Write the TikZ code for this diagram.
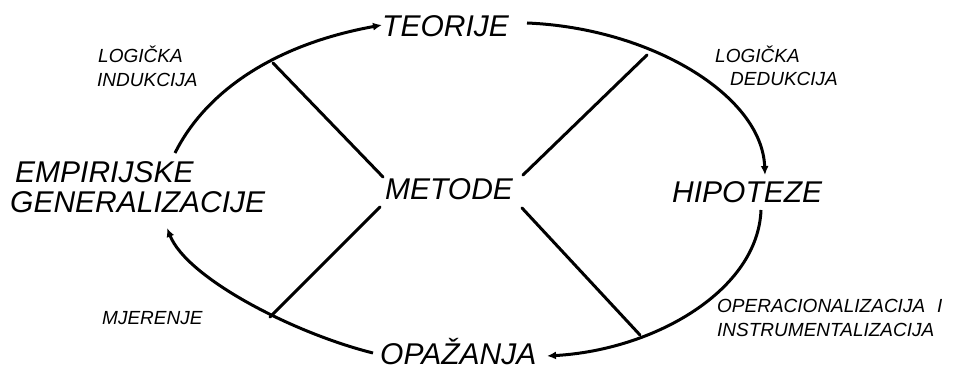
\documentclass[tikz,border=0pt]{standalone}
\usepackage{fontspec}
\setmainfont{Liberation Sans}
\usetikzlibrary{arrows.meta,calc}
\begin{document}
\begin{tikzpicture}[x=1pt,y=-1pt,
  mainlab/.style={inner sep=0pt, anchor=base west, font=\fontsize{30}{34}\selectfont\itshape},
  slab/.style={inner sep=0pt, anchor=base west, font=\fontsize{19}{22}\selectfont\itshape},
  con/.style={line width=3pt, line cap=round},
  arr/.style={line width=3pt, -{Latex[length=9pt,width=8pt]}}]
\path[use as bounding box, fill=white] (0,0) rectangle (954,371);
% main labels
\node[mainlab] (teo) at (382,37) {TEORIJE};
\node[mainlab] (met) at (385,200) {METODE};
\node[mainlab] (hip) at (672,203) {HIPOTEZE};
\node[mainlab] (opa) at (380,365) {OPAŽANJA};
\node[mainlab] (emp) at (15,183) {EMPIRIJSKE};
\node[mainlab] (gen) at (10,213) {GENERALIZACIJE};
% small labels
\node[slab] (li1) at (98,63) {LOGIČKA};
\node[slab] (li2) at (97,87) {INDUKCIJA};
\node[slab] (ld1) at (715,63) {LOGIČKA};
\node[slab] (ld2) at (730,86) {DEDUKCIJA};
\node[slab] (mj) at (102,325) {MJERENJE};
\node[slab] (oi1) at (717,313) {OPERACIONALIZACIJA\hspace{12pt}I};
\node[slab] (oi2) at (717,337) {INSTRUMENTALIZACIJA};
% free ends of the METODE spokes
\coordinate (ul) at (273,63);
\coordinate (ur) at (647,55);
\coordinate (ll) at (270,317);
\coordinate (lr) at (640,335);
% arcs
\draw[arr] ([shift={(160,-30)}]emp.base west) .. controls (205,93) and (272,45) .. ([shift={(0,-12)}]teo.base west);
\draw[arr] ([shift={(145,-14)}]teo.base west) .. controls (650,28) and (762,95) .. ([shift={(93,-28)}]hip.base west);
\draw[arr] ([shift={(89,7)}]hip.base west) .. controls (758,290) and (655,350) .. ([shift={(167,-9)}]opa.base west);
\draw[arr] ([shift={(-7,-12)}]opa.base west) .. controls (293,333) and (187,278) .. ([shift={(157,15)}]gen.base west);
% spokes
\draw[con] ([shift={(-2,-23)}]met.base west) -- (ul);
\draw[con] ([shift={(138,-25)}]met.base west) -- (ur);
\draw[con] ([shift={(-5,7)}]met.base west) -- (ll);
\draw[con] ([shift={(137,8)}]met.base west) -- (lr);
\end{tikzpicture}
\end{document}
